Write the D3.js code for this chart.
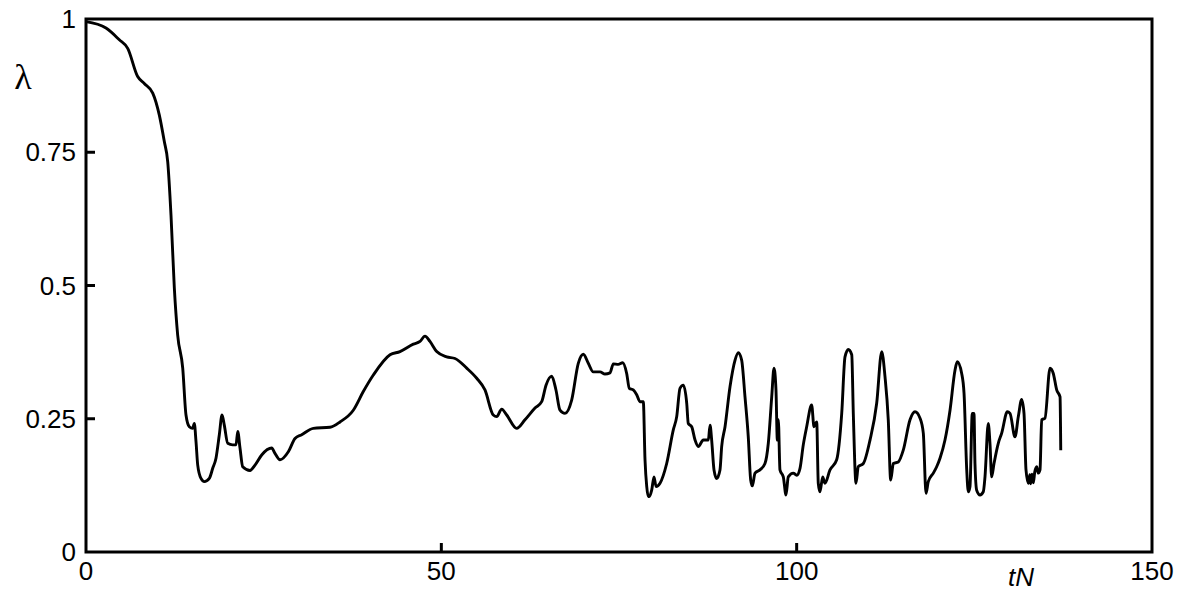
<!DOCTYPE html>
<html>
<head>
<meta charset="utf-8">
<script src="https://cdn.jsdelivr.net/npm/d3@7"></script>
<style>
  html, body { margin: 0; padding: 0; background: #ffffff; }
  svg { display: block; }
</style>
</head>
<body>
<svg id="chart" width="1180" height="597"></svg>
<script>
// ---- data ----
const tN = [
  0, 2.81, 4.69, 5.87, 7.27, 8.20, 9.39, 10.31, 11.02, 11.50,
  11.96, 12.43, 12.90, 13.61, 14.07, 14.54, 15.01, 15.24, 15.48, 15.72,
  16.18, 16.65, 17.35, 17.83, 18.29, 18.76, 19.14, 19.46, 19.94, 20.64,
  21.11, 21.35, 21.67, 22.05, 23.08, 23.78, 24.72, 26.13, 26.59, 27.30,
  28.47, 29.41, 30.35, 31.98, 34.33, 35.74, 37.61, 39.02, 40.43, 42.78,
  44.18, 46.06, 47.00, 47.70, 48.40, 49.35, 50.75, 51.92, 53.57, 54.98,
  56.14, 57.31, 57.79, 58.49, 59.20, 60.60, 61.77, 63.18, 64.12, 64.73,
  65.53, 66.13, 66.70, 67.40, 68.34, 69.27, 69.98, 70.68, 71.38, 72.33,
  73.03, 73.73, 74.20, 74.90, 75.52, 76.08, 76.45, 77.01, 77.49, 77.95,
  78.42, 78.66, 78.90, 79.12, 79.26, 79.60, 79.93, 80.21, 80.77, 81.71,
  82.64, 83.12, 83.58, 84.05, 84.53, 84.75, 85.23, 85.70, 86.16, 86.86,
  87.57, 87.81, 88.04, 88.37, 88.75, 89.21, 89.45, 89.92, 90.62, 91.33,
  91.79, 92.26, 92.73, 93.19, 93.53, 93.76, 94.14, 94.84, 95.54, 96.01,
  96.49, 96.81, 97.09, 97.28, 97.42, 97.65, 98.12, 98.50, 98.82, 99.53,
  100.01, 100.47, 100.93, 101.41, 102.11, 102.44, 102.82, 103.04, 103.28, 103.66,
  103.99, 104.69, 105.63, 106.34, 106.80, 107.27, 107.75, 107.97, 108.35, 108.67,
  109.38, 110.32, 111.26, 111.97, 112.43, 112.89, 113.23, 113.60, 114.30, 115.00,
  115.95, 116.65, 117.36, 117.82, 118.20, 118.52, 119.23, 119.70, 120.17, 120.87,
  121.58, 122.28, 122.60, 123.22, 123.55, 123.93, 124.15, 124.39, 124.71, 124.95,
  125.09, 125.33, 125.80, 126.26, 126.50, 126.96, 127.20, 127.44, 127.77, 128.37,
  128.85, 129.64, 130.02, 130.72, 131.19, 131.66, 131.99, 132.27, 132.60, 132.80,
  132.93, 133.10, 133.30, 133.50, 133.78, 134.00, 134.24, 134.48, 134.94, 135.65,
  136.11, 136.59, 137.06, 137.16
];
const lambda = [
  0.995, 0.983, 0.961, 0.945, 0.892, 0.879, 0.861, 0.820, 0.770, 0.732,
  0.632, 0.495, 0.407, 0.345, 0.257, 0.235, 0.232, 0.241, 0.207, 0.163,
  0.138, 0.132, 0.138, 0.157, 0.176, 0.220, 0.257, 0.238, 0.204, 0.201,
  0.201, 0.226, 0.195, 0.160, 0.153, 0.163, 0.182, 0.195, 0.185, 0.173,
  0.188, 0.213, 0.220, 0.232, 0.234, 0.244, 0.266, 0.301, 0.332, 0.370,
  0.376, 0.390, 0.395, 0.405, 0.395, 0.376, 0.366, 0.363, 0.345, 0.326,
  0.304, 0.257, 0.254, 0.268, 0.257, 0.232, 0.248, 0.270, 0.282, 0.313,
  0.330, 0.304, 0.266, 0.260, 0.285, 0.354, 0.371, 0.354, 0.338, 0.338,
  0.334, 0.336, 0.353, 0.352, 0.355, 0.335, 0.307, 0.304, 0.295, 0.282,
  0.282, 0.173, 0.123, 0.104, 0.104, 0.116, 0.141, 0.123, 0.129, 0.166,
  0.229, 0.254, 0.307, 0.313, 0.279, 0.241, 0.235, 0.210, 0.198, 0.210,
  0.210, 0.238, 0.210, 0.154, 0.138, 0.154, 0.198, 0.235, 0.310, 0.360,
  0.374, 0.360, 0.291, 0.216, 0.135, 0.124, 0.148, 0.154, 0.166, 0.204,
  0.291, 0.345, 0.304, 0.210, 0.248, 0.154, 0.141, 0.107, 0.141, 0.148,
  0.144, 0.157, 0.201, 0.235, 0.276, 0.235, 0.244, 0.129, 0.113, 0.141,
  0.129, 0.154, 0.173, 0.260, 0.366, 0.380, 0.370, 0.260, 0.129, 0.160,
  0.166, 0.210, 0.279, 0.376, 0.329, 0.248, 0.135, 0.166, 0.169, 0.191,
  0.248, 0.263, 0.251, 0.223, 0.110, 0.132, 0.148, 0.160, 0.176, 0.210,
  0.266, 0.341, 0.357, 0.335, 0.298, 0.154, 0.113, 0.123, 0.260, 0.260,
  0.166, 0.116, 0.107, 0.113, 0.141, 0.241, 0.204, 0.141, 0.166, 0.204,
  0.223, 0.263, 0.260, 0.216, 0.254, 0.286, 0.260, 0.154, 0.129, 0.145,
  0.128, 0.146, 0.130, 0.150, 0.160, 0.148, 0.154, 0.248, 0.251, 0.345,
  0.335, 0.304, 0.291, 0.191
];
const xTicks = [0, 50, 100, 150];
const yTicks = [0, 0.25, 0.5, 0.75, 1];
const yTickLabels = ["0", "0.25", "0.5", "0.75", "1"];
const xLabel = "tN";
const yLabel = "λ";

// ---- layout ----
const svg = d3.select("#chart");
const mLeft = 86, mRight = 1152, mTop = 19, mBottom = 552;
const x = d3.scaleLinear().domain([0, 150]).range([mLeft, mRight]);
const y = d3.scaleLinear().domain([0, 1]).range([mBottom, mTop]);
const font = "'Liberation Sans', Arial, sans-serif";

svg.append("rect").attr("width", 1180).attr("height", 597).attr("fill", "#ffffff");

// curve
const pts = tN.map((t, i) => [t, lambda[i]]);
const line = d3.line()
  .x(d => x(d[0]))
  .y(d => y(d[1]))
  .curve(d3.curveMonotoneX);
svg.append("path")
  .datum(pts)
  .attr("fill", "none")
  .attr("stroke", "#000")
  .attr("stroke-width", 2.9)
  .attr("stroke-linejoin", "round")
  .attr("d", line);

// frame
svg.append("rect")
  .attr("x", mLeft).attr("y", mTop)
  .attr("width", mRight - mLeft).attr("height", mBottom - mTop)
  .attr("fill", "none").attr("stroke", "#000").attr("stroke-width", 3);

// y ticks (inward)
svg.append("g").selectAll("line")
  .data(yTicks.filter(v => v > 0 && v < 1))
  .join("line")
  .attr("x1", mLeft).attr("x2", mLeft + 9)
  .attr("y1", d => y(d)).attr("y2", d => y(d))
  .attr("stroke", "#000").attr("stroke-width", 3);

// x ticks (inward)
svg.append("g").selectAll("line")
  .data(xTicks.filter(v => v > 0 && v < 150))
  .join("line")
  .attr("x1", d => x(d)).attr("x2", d => x(d))
  .attr("y1", mBottom).attr("y2", mBottom - 9)
  .attr("stroke", "#000").attr("stroke-width", 3);

// y tick labels
svg.append("g").selectAll("text")
  .data(yTicks)
  .join("text")
  .attr("x", 76)
  .attr("y", d => y(d) + 9)
  .attr("text-anchor", "end")
  .attr("font-family", font)
  .attr("font-size", 26)
  .attr("fill", "#000")
  .text((d, i) => yTickLabels[i]);

// x tick labels
svg.append("g").selectAll("text")
  .data(xTicks)
  .join("text")
  .attr("x", d => x(d))
  .attr("y", 580)
  .attr("text-anchor", "middle")
  .attr("font-family", font)
  .attr("font-size", 26)
  .attr("fill", "#000")
  .text(d => d);

// axis labels
svg.append("text")
  .attr("x", 1021).attr("y", 586)
  .attr("text-anchor", "middle")
  .attr("font-family", font)
  .attr("font-size", 26)
  .attr("font-style", "italic")
  .text(xLabel);

svg.append("text")
  .attr("x", 23).attr("y", 89)
  .attr("text-anchor", "middle")
  .attr("font-family", "'Liberation Serif', 'Times New Roman', serif")
  .attr("font-size", 36)
  .text(yLabel);
</script>
</body>
</html>
